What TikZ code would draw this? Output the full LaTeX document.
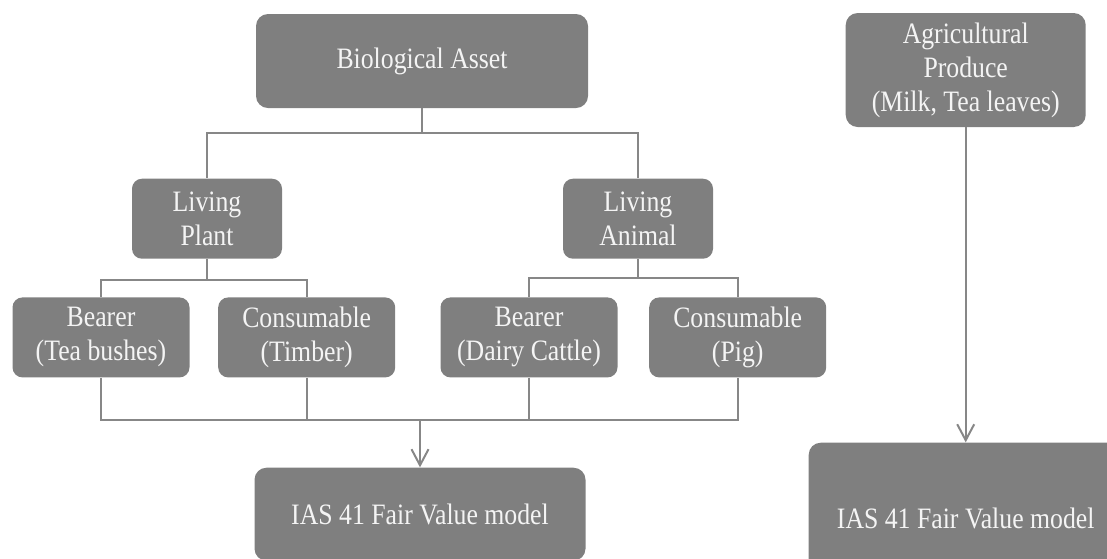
\documentclass[tikz,border=0pt]{standalone}
\usepackage{fontspec}
\setmainfont{Liberation Serif}[FakeStretch=0.87]
\usetikzlibrary{positioning, arrows.meta, calc}
\definecolor{cBox}{HTML}{7F7F7F}
\definecolor{cLine}{HTML}{878787}
\definecolor{cText}{HTML}{F4F4F4}
\tikzset{
  box/.style      ={fill=cBox, text=cText, rounded corners=0.24cm, align=center, inner sep=0pt,
                    font=\fontsize{16.85}{19.35}\selectfont},
  topbox/.style   ={box, minimum width=6.64cm, minimum height=1.88cm},
  midbox/.style   ={box, minimum width=3.0cm, minimum height=1.6cm, rounded corners=0.2cm},
  leafbox/.style  ={box, minimum width=3.54cm, minimum height=1.6cm, rounded corners=0.2cm},
  modelbox/.style ={box, minimum width=6.62cm, minimum height=1.86cm},
  agribox/.style  ={box, minimum width=4.8cm, minimum height=2.28cm},
  link/.style     ={draw=cLine, line width=0.04cm},
  flow/.style     ={link, -{Straight Barb[length=0.32cm, width=0.34cm]}}
}

\begin{document}
\begin{tikzpicture}
  \useasboundingbox (0,0) rectangle (22.14,-11.16);
  \clip (0,0) rectangle (22.14,-11.16);

  % ====================== Biological asset tree ======================
  \node[topbox] at (8.44,-1.22) (bio) {Biological Asset};
  \node[midbox, below=1.4cm of bio, xshift=-4.30cm] (plant)  {Living\\Plant};
  \node[midbox, below=1.4cm of bio, xshift=4.32cm]  (animal) {Living\\Animal};

  \node[leafbox, below=0.76cm of plant, xshift=-2.12cm] (teabush) {Bearer\\(Tea bushes)};
  \node[leafbox, right=0.56cm of teabush]               (timber)  {Consumable\\(Timber)};
  \node[leafbox, below=0.76cm of animal, xshift=-2.18cm] (cattle) {Bearer\\(Dairy Cattle)};
  \node[leafbox, right=0.62cm of cattle]                 (pig)    {Consumable\\(Pig)};

  \node[modelbox, below=7.18cm of bio, xshift=-0.04cm] (fvleft) {IAS 41 Fair Value model};

  \draw[link] (bio.south) -- ++(0,-0.5) -| (plant.north);
  \draw[link] (bio.south) -- ++(0,-0.5) -| (animal.north);

  \draw[link] (plant.south) -- ++(0,-0.42) -| (teabush.north);
  \draw[link] (plant.south) -- ++(0,-0.42) -| (timber.north);
  \draw[link] (animal.south) -- ++(0,-0.38) -| (cattle.north);
  \draw[link] (animal.south) -- ++(0,-0.38) -| (pig.north);

  \coordinate (merge) at ($(teabush.south)+(0,-0.84)$);
  \draw[link] (teabush.south) -- (merge) -| (pig.south);
  \draw[link] (timber.south) -- (timber.south |- merge);
  \draw[link] (cattle.south) -- (cattle.south |- merge);
  \draw[flow] (fvleft.north |- merge) -- (fvleft.north);

  % ====================== Agricultural produce ======================
  \node[agribox, right=5.14cm of bio, yshift=-0.18cm] (agri) {Agricultural\\Produce\\(Milk, Tea leaves)};
  \node[modelbox, below=6.3cm of agri, minimum width=6.28cm, minimum height=3.04cm,
        text depth=0pt] (fvright) {IAS 41 Fair Value model};

  \draw[flow] (agri) -- (fvright);

\end{tikzpicture}
\end{document}
